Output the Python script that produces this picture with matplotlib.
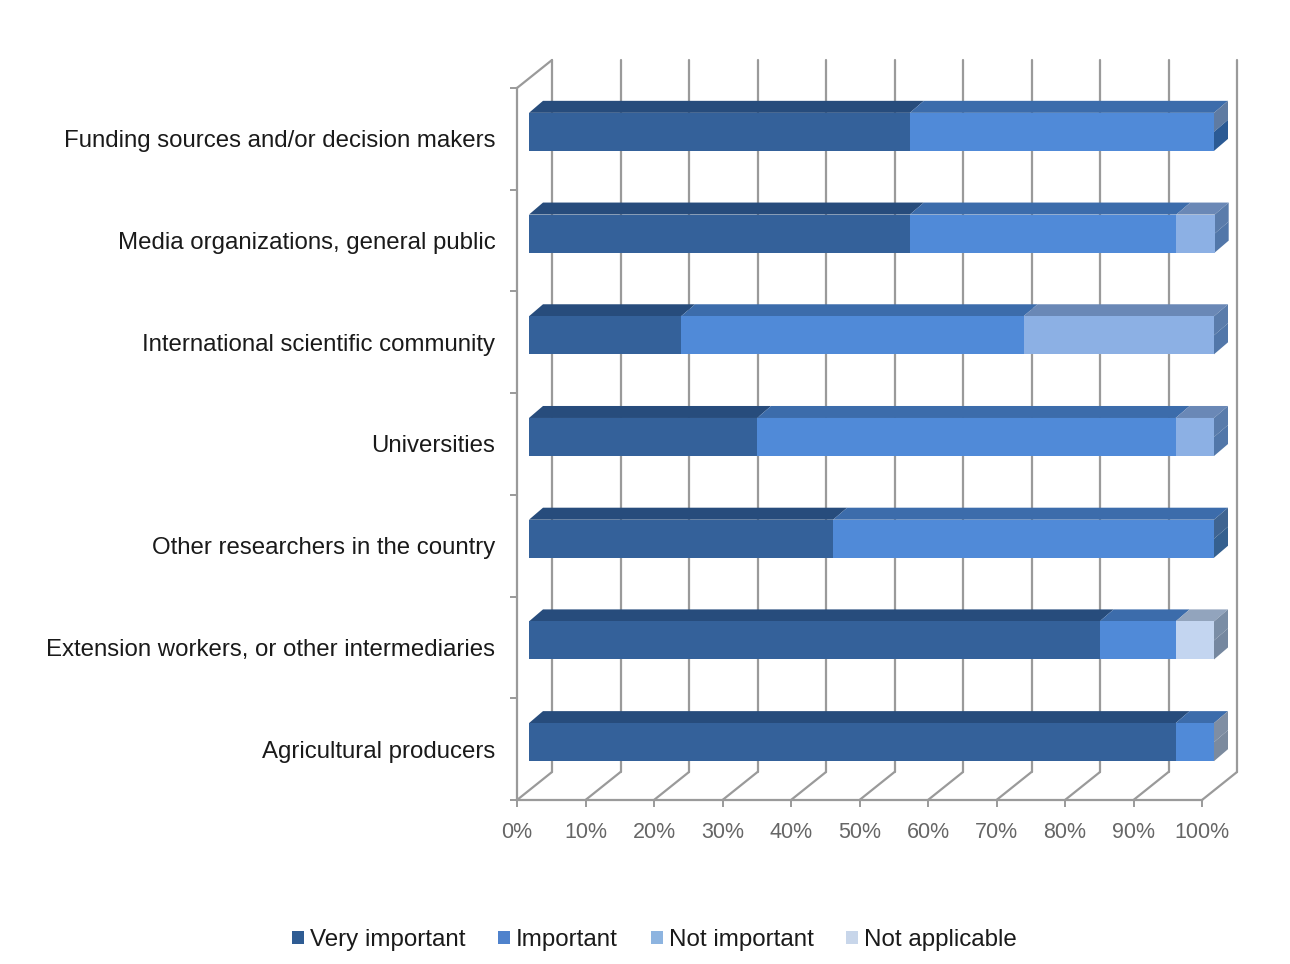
#!/usr/bin/env python3
import matplotlib
matplotlib.use('Agg')
import numpy as np
import matplotlib.pyplot as plt
from matplotlib.patches import Patch, Polygon
from matplotlib.transforms import offset_copy, IdentityTransform

plt.rcParams['font.family'] = ['Liberation Sans', 'DejaVu Sans']

categories = ['Funding sources and/or decision makers',
              'Media organizations, general public',
              'International scientific community',
              'Universities',
              'Other researchers in the country',
              'Extension workers, or other intermediaries',
              'Agricultural producers']
series_names = ['Very important', 'Important', 'Not important', 'Not applicable']
very_important = [55.6, 55.6, 22.2, 33.3, 44.4, 83.3, 94.4]
important = [44.4, 38.9, 50.0, 61.1, 55.6, 11.1, 5.6]
not_important = [0, 5.6, 27.8, 5.6, 0, 0, 0]
not_applicable = [0, 0, 0, 0, 0, 5.6, 0]
tick_labels = ['0%', '10%', '20%', '30%', '40%', '50%', '60%', '70%', '80%', '90%', '100%']

front_colors = ['#34619a', '#508ad8', '#8cb0e4', '#c3d5f0']
top_colors = ['#274c7c', '#3c6cab', '#6a88b6', '#92a4bd']
legend_colors = ['#2f5c93', '#4f82cc', '#8db4e0', '#c8d6ea']
# end caps of the bars, upper and lower half
side_upper = ['#5f7ba2', '#5a7cab', '#5a7cab', '#5a7cab', '#3f6491', '#7a8da5', '#7f8ea3']
side_lower = ['#2b5a94', '#5277a9', '#5277a9', '#5277a9', '#35608f', '#75879f', '#7b8a9e']

GRID = '#9a9a9a'
W, H = 1290, 964
DEPTH_X, DEPTH_Y = 35, 28      # depth of the floor and side wall
BAR_X, BAR_Y = 12, 7           # where the bar front sits inside that depth
BAR_DX, BAR_DY = 14, 12        # depth of the bars themselves
BAR_H = 0.374

fig = plt.figure(figsize=(W / 100, H / 100), dpi=100)
ax = fig.add_axes([517 / W, (H - 800) / H, 685 / W, 712 / H])
ax.set_xlim(0, 100)
ax.set_ylim(7, 0)

def px(x, y, dx=0, dy=0):
    p = ax.transData.transform((x, y))
    return (p[0] + dx, p[1] + dy)

def face(pts, color, z):
    ax.add_patch(Polygon(pts, closed=True, facecolor=color, edgecolor='none',
                         transform=IdentityTransform(), zorder=z, clip_on=False))

def line(pts, z=1):
    xs, ys = zip(*pts)
    ax.plot(xs, ys, color=GRID, lw=1.6, transform=IdentityTransform(),
            clip_on=False, zorder=z, solid_capstyle='round')

# back wall gridlines and their floor diagonals
xticks = np.arange(0, 101, 10)
for t in xticks:
    line([px(t, 7), px(t, 7, DEPTH_X, DEPTH_Y)])
    line([px(t, 7, DEPTH_X, DEPTH_Y), px(t, 0, DEPTH_X, DEPTH_Y)])
line([px(0, 0), px(0, 0, DEPTH_X, DEPTH_Y)])

# stacked bars
values = np.array([very_important, important, not_important, not_applicable])
ypos = np.arange(len(categories)) + 0.5
bar_tr = offset_copy(ax.transData, fig=fig, x=BAR_X, y=BAR_Y, units='dots')
left = np.zeros(len(categories))
for k, vals in enumerate(values):
    ax.barh(ypos, vals, left=left, height=BAR_H, color=front_colors[k], linewidth=0,
            transform=bar_tr, zorder=5, clip_on=False)
    for i in range(len(categories)):
        if vals[i] == 0:
            continue
        top = ypos[i] - BAR_H / 2
        x0, x1 = left[i], left[i] + vals[i]
        face([px(x0, top, BAR_X, BAR_Y), px(x1, top, BAR_X, BAR_Y),
              px(x1, top, BAR_X + BAR_DX, BAR_Y + BAR_DY),
              px(x0, top, BAR_X + BAR_DX, BAR_Y + BAR_DY)], top_colors[k], 4)
    left = left + np.array(vals)

for i in range(len(categories)):
    top, mid, bot = ypos[i] - BAR_H / 2, ypos[i], ypos[i] + BAR_H / 2
    xe = left[i]
    face([px(xe, top, BAR_X, BAR_Y), px(xe, top, BAR_X + BAR_DX, BAR_Y + BAR_DY),
          px(xe, mid, BAR_X + BAR_DX, BAR_Y + BAR_DY), px(xe, mid, BAR_X, BAR_Y)], side_upper[i], 4)
    face([px(xe, mid, BAR_X, BAR_Y), px(xe, mid, BAR_X + BAR_DX, BAR_Y + BAR_DY),
          px(xe, bot, BAR_X + BAR_DX, BAR_Y + BAR_DY), px(xe, bot, BAR_X, BAR_Y)], side_lower[i], 4)

# axes
for s in ['top', 'right']:
    ax.spines[s].set_visible(False)
for s in ['left', 'bottom']:
    ax.spines[s].set_color(GRID)
    ax.spines[s].set_linewidth(1.6)
ax.patch.set_alpha(0)
ax.set_xticks(xticks)
ax.set_xticklabels(tick_labels, fontsize=15.5, color='#666666')
ax.set_yticks(ypos)
ax.set_yticklabels(categories, fontsize=17.3, color='#1a1a1a')
ax.set_yticks(np.arange(0, 8), minor=True)
ax.tick_params(axis='y', which='major', length=0, pad=15.5)
ax.tick_params(axis='y', which='minor', length=5, width=1.4, color=GRID)
ax.tick_params(axis='x', length=5, width=1.4, color=GRID, pad=11)

handles = [Patch(facecolor=c, edgecolor='none') for c in legend_colors]
fig.legend(handles, series_names, loc='center', bbox_to_anchor=(654.5 / W, (H - 940) / H), ncol=4,
           frameon=False, fontsize=17.4, handlelength=0.5, handleheight=0.5,
           handletextpad=0.25, columnspacing=1.35, labelcolor='#1a1a1a')

fig.savefig('out.png', dpi=100)
